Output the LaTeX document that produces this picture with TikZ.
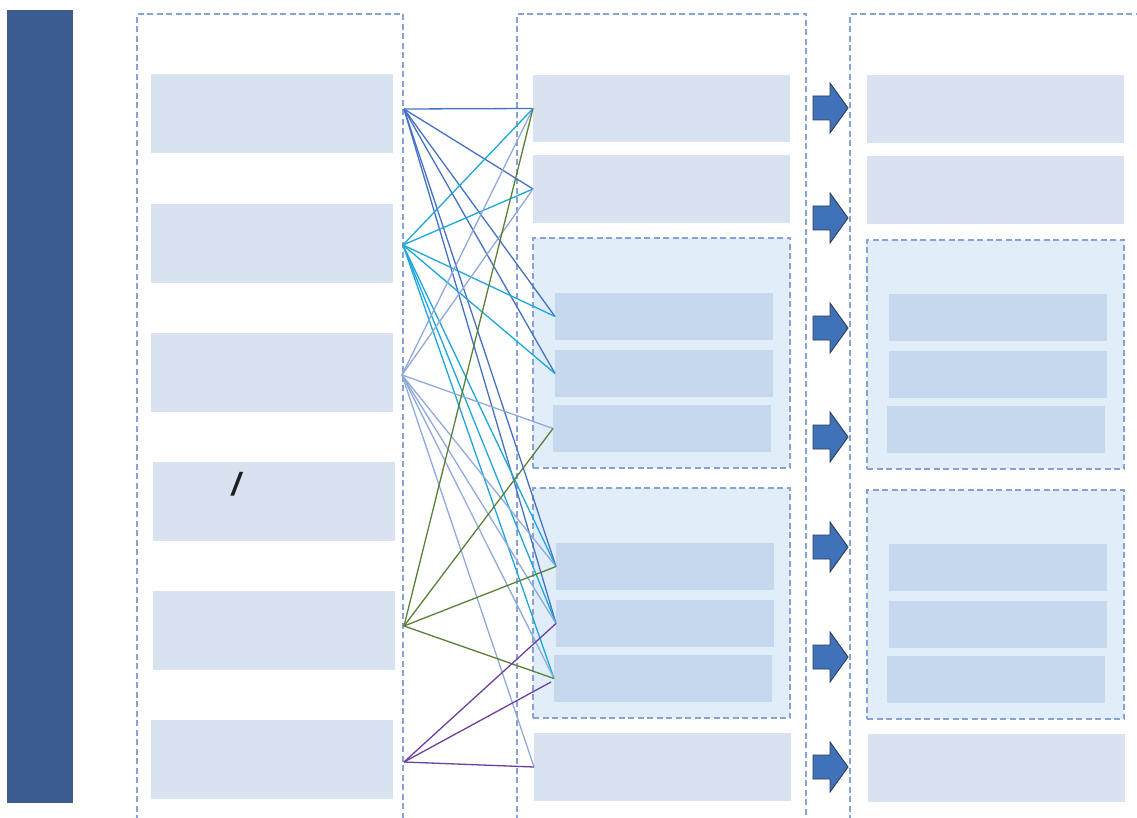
\documentclass[tikz,border=0pt]{standalone}
\usepackage{fontspec}
\setmainfont{Liberation Sans}
\definecolor{barc}{HTML}{3A5C8F}
\definecolor{framec}{HTML}{86A2D6}
\definecolor{boxc}{HTML}{D9E2F1}
\definecolor{grpc}{HTML}{E1EEF9}
\definecolor{innc}{HTML}{C6D8EE}
\definecolor{arrc}{HTML}{3F72B9}
\definecolor{arrd}{HTML}{2B3A5A}
\definecolor{cdark}{HTML}{4472C4}
\definecolor{ccyan}{HTML}{1CA7DE}
\definecolor{cgray}{HTML}{8FAADC}
\definecolor{cgreen}{HTML}{5B8138}
\definecolor{cpurp}{HTML}{6E3FA0}
\begin{document}
\begin{tikzpicture}[x=1pt,y=-1pt,
  box/.style={fill=boxc,draw=none,anchor=north west,inner sep=0pt,outer sep=0pt},
  inbox/.style={fill=innc,draw=none,anchor=north west,inner sep=0pt,outer sep=0pt},
  grp/.style={fill=grpc,draw=framec,line width=2.4pt,dash pattern=on 6pt off 3.5pt,anchor=north west,inner sep=0pt,outer sep=0pt},
  frame/.style={draw=framec,line width=2.4pt,dash pattern=on 6pt off 3.5pt},
  link/.style={line width=1.3pt},
  bigarrow/.pic={\draw[fill=arrc,draw=arrd,line width=0.9pt] (-17,-12) -- (0,-12) -- (0,-25) -- (18,0) -- (0,25) -- (0,12) -- (-17,12) -- cycle;}
]
\useasboundingbox (0,0) rectangle (1137,818);
\clip (0,0) rectangle (1137,818);
\fill[white] (0,0) rectangle (1137,818);
% left bar
\node[fill=barc,anchor=north west,inner sep=0pt,minimum width=66pt,minimum height=793pt] (bar) at (7,10) {};
% frames
\draw[frame] (137,840) -- (137,14) -- (403,14) -- (403,840);
\draw[frame] (517,840) -- (517,14) -- (806,14) -- (806,840);
\draw[frame] (850,840) -- (850,14) -- (1160,14);
% left boxes
\node[box,minimum width=242pt,minimum height=79pt] (a1) at (151,74) {};
\node[box,minimum width=242pt,minimum height=79pt] (a2) at (151,204) {};
\node[box,minimum width=242pt,minimum height=79pt] (a3) at (151,333) {};
\node[box,minimum width=242pt,minimum height=79pt] (a4) at (153,462) {};
\node[box,minimum width=242pt,minimum height=79pt] (a5) at (153,591) {};
\node[box,minimum width=242pt,minimum height=79pt] (a6) at (151,720) {};
\node[font=\fontsize{32}{36}\selectfont\bfseries\itshape,text=black!88,inner sep=0pt] (slash) at (236,484) {/};
% middle column
\node[box,minimum width=257pt,minimum height=67pt] (m1) at (533,75) {};
\node[box,minimum width=257pt,minimum height=68pt] (m2) at (533,155) {};
\node[grp,minimum width=257pt,minimum height=230pt] (mg1) at (533,238) {};
\node[inbox,minimum width=218pt,minimum height=47pt] (m3a) at (555,293) {};
\node[inbox,minimum width=218pt,minimum height=47pt] (m3b) at (555,350) {};
\node[inbox,minimum width=218pt,minimum height=47pt] (m3c) at (553,405) {};
\node[grp,minimum width=257pt,minimum height=230pt] (mg2) at (533,488) {};
\node[inbox,minimum width=218pt,minimum height=47pt] (m4a) at (556,543) {};
\node[inbox,minimum width=218pt,minimum height=47pt] (m4b) at (556,600) {};
\node[inbox,minimum width=218pt,minimum height=47pt] (m4c) at (554,655) {};
\node[box,minimum width=257pt,minimum height=68pt] (m5) at (534,733) {};
% right column
\node[box,minimum width=257pt,minimum height=68pt] (r1) at (867,75) {};
\node[box,minimum width=257pt,minimum height=68pt] (r2) at (867,156) {};
\node[grp,minimum width=257pt,minimum height=229pt] (rg1) at (867,240) {};
\node[inbox,minimum width=218pt,minimum height=47pt] (r3a) at (889,294) {};
\node[inbox,minimum width=218pt,minimum height=47pt] (r3b) at (889,351) {};
\node[inbox,minimum width=218pt,minimum height=47pt] (r3c) at (887,406) {};
\node[grp,minimum width=257pt,minimum height=229pt] (rg2) at (867,490) {};
\node[inbox,minimum width=218pt,minimum height=47pt] (r4a) at (889,544) {};
\node[inbox,minimum width=218pt,minimum height=47pt] (r4b) at (889,601) {};
\node[inbox,minimum width=218pt,minimum height=47pt] (r4c) at (887,656) {};
\node[box,minimum width=257pt,minimum height=68pt] (r5) at (868,734) {};
% arrows
\foreach \yy in {108,218,328,437,547,657,767} { \pic at (830,\yy) {bigarrow}; }
% connector end points
\coordinate (L1) at (404,109);
\coordinate (L2) at (403,245);
\coordinate (L3) at (402,375);
\coordinate (L5) at (404,626);
\coordinate (L6) at (404,762);
\coordinate (P4c) at (551,682);
% connectors
\foreach \t in {m1,m2,m3a,m3b,m4a,m4b} \draw[link,cdark] (L1) -- (\t.west);
\foreach \t in {m1,m2,m3a,m3b,m4a,m4b,m4c} \draw[link,ccyan] (L2) -- (\t.west);
\foreach \t in {m1,m2,m3c,m4a,m4b,m4c,m5} \draw[link,cgray] (L3) -- (\t.west);
\foreach \t in {m1,m3c,m4a,m4c} \draw[link,cgreen] (L5) -- (\t.west);
\draw[link,cpurp] (L6) -- (m4b.west);
\draw[link,cpurp] (L6) -- (P4c);
\draw[link,cpurp] (L6) -- (m5.west);
\end{tikzpicture}
\end{document}
